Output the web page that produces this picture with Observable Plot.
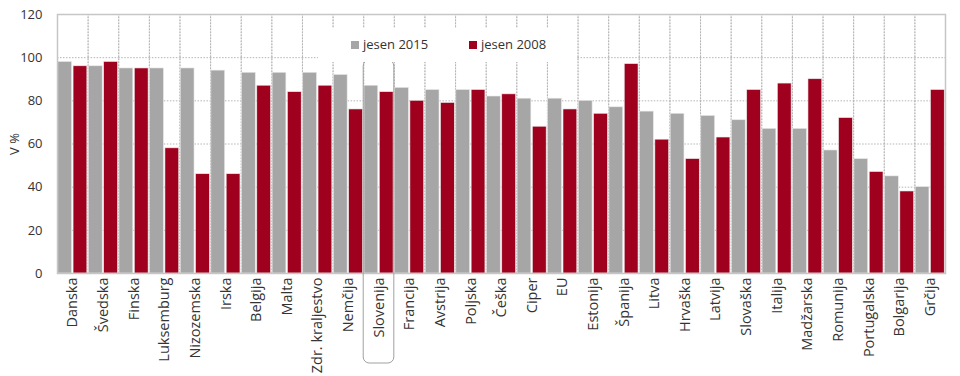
<!DOCTYPE html>
<html><head><meta charset="utf-8">
<script src="https://cdn.jsdelivr.net/npm/d3@7"></script>
<script src="https://cdn.jsdelivr.net/npm/@observablehq/plot@0.6"></script>
<style>
body{margin:0;background:#fff;font-family:"Open Sans",sans-serif}
#wrap{position:relative;width:960px;height:376px}
#legend{position:absolute;left:318px;top:28px;width:259px;height:34px;background:#fff;font-size:13px;color:#333}
#legend span.item{position:absolute;top:8px;white-space:nowrap;line-height:17px}
#legend i{display:inline-block;width:8px;height:8px;margin-right:4px;vertical-align:0px}
</style></head><body>
<div id="wrap"><div id="chart"></div><div id="legend"></div></div>
<script>
const countries = ["Danska","Švedska","Finska","Luksemburg","Nizozemska","Irska","Belgija","Malta","Zdr. kraljestvo","Nemčija","Slovenija","Francija","Avstrija","Poljska","Češka","Ciper","EU","Estonija","Španija","Litva","Hrvaška","Latvija","Slovaška","Italija","Madžarska","Romunija","Portugalska","Bolgarija","Grčija"];
const jesen2015 = [98,96,95,95,95,94,93,93,93,92,87,86,85,85,82,81,81,80,77,75,74,73,71,67,67,57,53,45,40];
const jesen2008 = [96,98,95,58,46,46,87,84,87,76,84,80,79,85,83,68,76,74,97,62,53,63,85,88,90,72,47,38,85];
const seriesNames = ["jesen 2015","jesen 2008"];
const seriesColors = ["#a6a6a6","#9e001d"];
const yTicks = [0,20,40,60,80,100,120];
const highlight = "Slovenija";

const rows = countries.flatMap((c,i)=>[
  {country:c, series:seriesNames[0], value:jesen2015[i]},
  {country:c, series:seriesNames[1], value:jesen2008[i]}
]);

const chart = Plot.plot({
  width:960, height:376,
  marginLeft:57, marginRight:15, marginTop:14, marginBottom:103,
  style:{fontFamily:"Open Sans", fontSize:"13px", color:"#333", background:"#fff"},
  fx:{domain:countries, padding:0, round:false},
  x:{domain:seriesNames, paddingInner:0.1, paddingOuter:0.05, round:false, axis:null},
  y:{domain:[0,120]},
  color:{domain:seriesNames, range:seriesColors},
  marks:[
    Plot.gridY(yTicks.slice(1,-1), {stroke:"#b5b5b5", strokeOpacity:1, strokeDasharray:"1.5,1.5"}),
    Plot.frame({stroke:"#b5b5b5", strokeDasharray:"1.5,1.5"}),
    Plot.barY(rows, {fx:"country", x:"series", y:"value", fill:"series", stroke:"#e8e8e8", strokeWidth:0.6}),
    Plot.frame({facet:"super", stroke:"#c6c6c6", strokeWidth:1.5}),
    Plot.rect([highlight], {fx:d=>d, insetTop:46, insetBottom:-90, rx:6, fill:"none", stroke:"#a0a0a0", strokeWidth:1}),
    Plot.axisY(yTicks, {tickSize:0, tickPadding:15, fontSize:13, label:"V %", labelAnchor:"center", labelArrow:false, labelOffset:48}),
    Plot.axisFx({anchor:"bottom", tickRotate:-90, tickSize:0, tickPadding:4, fontSize:14.5, label:null})
  ]
});
document.getElementById("chart").append(chart);

const leg = document.getElementById("legend");
const lx = [33, 151];
seriesNames.forEach((s,i)=>{
  const sp = document.createElement("span");
  sp.className = "item";
  sp.style.left = lx[i] + "px";
  sp.innerHTML = `<i style="background:${seriesColors[i]}"></i>${s}`;
  leg.append(sp);
});
</script>
</body></html>
